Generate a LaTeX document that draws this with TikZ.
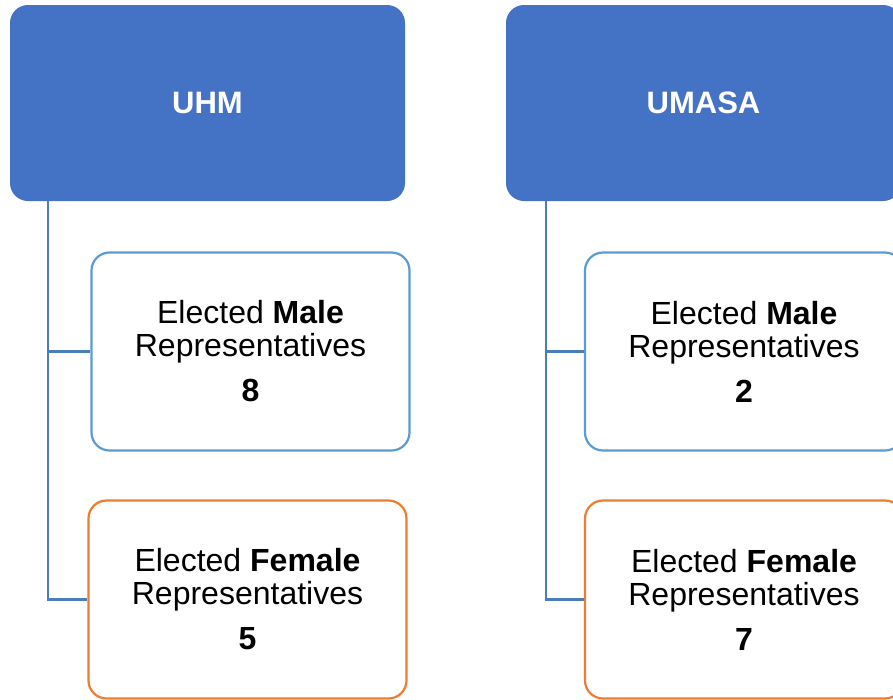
\documentclass[tikz,border=0pt]{standalone}
\usepackage{fontspec}
\setmainfont{Liberation Sans}
\definecolor{headblue}{HTML}{4472C4}
\definecolor{connblue}{HTML}{4A7EBB}
\definecolor{maleblue}{HTML}{5B9BD5}
\definecolor{femorange}{HTML}{ED7D31}
\begin{document}
\begin{tikzpicture}[x=1pt,y=1pt,
  headbox/.style={rectangle, rounded corners=18pt, fill=headblue, draw=none,
    minimum width=395pt, minimum height=196pt, inner sep=0pt, text=white,
    font=\fontsize{31}{33}\selectfont\bfseries},
  childbox/.style={rectangle, rounded corners=18pt, fill=white, line width=2.2pt,
    minimum width=318pt, minimum height=198pt, inner sep=0pt, align=center,
    font=\fontsize{32}{33}\selectfont},
  malebox/.style={childbox, draw=maleblue},
  femalebox/.style={childbox, draw=femorange},
  conn/.style={draw=connblue, line width=2.5pt}
]
\useasboundingbox (0,0) rectangle (893,-699);
\clip (0,0) rectangle (893,-699);
\fill[white] (0,0) rectangle (893,-699);

% UHM column
\node[headbox] (uhm) at (207.5,-103) {UHM};
\node[malebox] (m1) at (250.5,-351.5) {Elected \textbf{Male}\\Representatives\\[12pt]\textbf{8}};
\node[femalebox] (f1) at (247.5,-599.5) {Elected \textbf{Female}\\Representatives\\[12pt]\textbf{5}};
\coordinate (t1) at (48,-201);
\draw[conn] (t1) |- (m1.west);
\draw[conn] (t1) |- (f1.west);

% UMASA column
\node[headbox] (umasa) at (703.5,-103) {UMASA};
\node[malebox] (m2) at (744,-351.5) {Elected \textbf{Male}\\Representatives\\[12pt]\textbf{2}};
\node[femalebox] (f2) at (744,-599.5) {Elected \textbf{Female}\\Representatives\\[12pt]\textbf{7}};
\coordinate (t2) at (546,-201);
\draw[conn] (t2) |- (m2.west);
\draw[conn] (t2) |- (f2.west);
\end{tikzpicture}
\end{document}
